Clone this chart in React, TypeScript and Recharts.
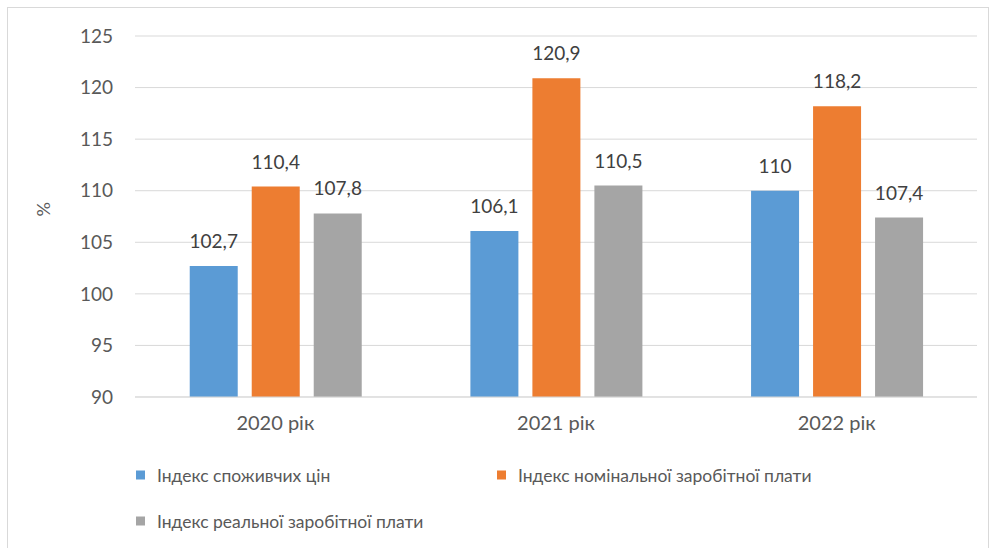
import { BarChart, Bar, XAxis, YAxis, CartesianGrid, LabelList } from "recharts";

const years = ["2020 рік", "2021 рік", "2022 рік"];
const consumerPrice = [102.7, 106.1, 110];
const nominalWage = [110.4, 120.9, 118.2];
const realWage = [107.8, 110.5, 107.4];
const yTicks = [90, 95, 100, 105, 110, 115, 120, 125];

const SERIES = [
  { key: "cpi", name: "Індекс споживчих цін", color: "#5B9BD5" },
  { key: "nominal", name: "Індекс номінальної заробітної плати", color: "#ED7D31" },
  { key: "real", name: "Індекс реальної заробітної плати", color: "#A5A5A5" },
];

const FONT = "Lato, 'Open Sans', sans-serif";
const TEXT = "#595959";

const data = years.map((year, i) => ({
  year,
  cpi: consumerPrice[i],
  nominal: nominalWage[i],
  real: realWage[i],
}));

const fmt = (v: number) => String(v).replace(".", ",");

// legend laid out like the Excel original: two items on row one, the third below
const legendSpots = [
  { left: 136, top: 475 },
  { left: 497, top: 475 },
  { left: 136, top: 521 },
];

function ChartLegend() {
  return (
    <>
      {SERIES.map((s, i) => (
        <div
          key={s.key}
          style={{
            position: "absolute",
            left: legendSpots[i].left,
            top: legendSpots[i].top,
            transform: "translateY(-50%)",
            display: "flex",
            alignItems: "center",
            whiteSpace: "nowrap",
            fontFamily: FONT,
            fontSize: 17.5,
            color: TEXT,
          }}
        >
          <div style={{ width: 9, height: 9, background: s.color, marginRight: 12 }} />
          <span>{s.name}</span>
        </div>
      ))}
    </>
  );
}

export default function App() {
  return (
    <div style={{ position: "absolute", left: 0, top: 0, width: 995, height: 548, background: "#fff", overflow: "hidden" }}>
      <div
        style={{
          position: "absolute",
          left: 7,
          top: 7,
          width: 982,
          height: 560,
          border: "1px solid #d9d9d9",
          boxSizing: "border-box",
        }}
      />
      <BarChart
        width={995}
        height={548}
        data={data}
        margin={{ top: 36, right: 18, left: 0, bottom: 121 }}
        barCategoryGap="19.5%"
        barGap={14}
        style={{ fontFamily: FONT }}
      >
        <CartesianGrid vertical={false} stroke="#d9d9d9" />
        <XAxis
          dataKey="year"
          height={30}
          axisLine={{ stroke: "#d9d9d9" }}
          tickLine={false}
          tickSize={0}
          tickMargin={19}
          tick={{ fill: TEXT, fontSize: 20 }}
        />
        <YAxis
          width={135}
          domain={[90, 125]}
          ticks={yTicks}
          axisLine={false}
          tickLine={false}
          tickSize={0}
          tickMargin={22}
          tick={{ fill: TEXT, fontSize: 19 }}
          label={{ value: "%", angle: -90, position: "insideLeft", offset: 44, fill: TEXT, fontSize: 18 }}
        />
        {SERIES.map((s) => (
          <Bar key={s.key} dataKey={s.key} name={s.name} fill={s.color} isAnimationActive={false}>
            <LabelList
              dataKey={s.key}
              position="top"
              offset={18}
              formatter={(v: number) => fmt(v)}
              style={{ fill: "#404040", fontSize: 19, fontFamily: FONT }}
            />
          </Bar>
        ))}
      </BarChart>
      <ChartLegend />
    </div>
  );
}
